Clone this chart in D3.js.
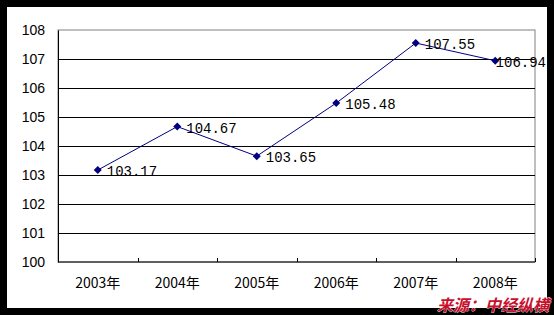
<!DOCTYPE html>
<html>
<head>
<meta charset="utf-8">
<script src="https://cdn.jsdelivr.net/npm/d3@7"></script>
<style>
  body { margin: 0; background: #000; }
  svg { display: block; }
</style>
</head>
<body>
<div id="chart"></div>
<script>
// chart data
var years = ["2003年", "2004年", "2005年", "2006年", "2007年", "2008年"];
var values = [103.17, 104.67, 103.65, 105.48, 107.55, 106.94];
var yTicks = [100, 101, 102, 103, 104, 105, 106, 107, 108];

var W = 554, H = 315;
var margin = {top: 30, right: 19, bottom: 53, left: 58},
    width = W - margin.left - margin.right,
    height = H - margin.top - margin.bottom;

var svg = d3.select("#chart").append("svg")
    .attr("width", W)
    .attr("height", H);

// black frame + white card
svg.append("rect").attr("width", W).attr("height", H).attr("fill", "#000");
svg.append("rect").attr("x", 7).attr("y", 7).attr("width", 540).attr("height", 301).attr("fill", "#fff");

var g = svg.append("g")
    .attr("transform", "translate(" + margin.left + "," + margin.top + ")");

var x = d3.scaleBand().domain(years).range([0, width]);
var y = d3.scaleLinear().domain([100, 108]).range([height, 0]);

// plot border (gray)
g.append("rect")
    .attr("x", 0).attr("y", 0)
    .attr("width", width).attr("height", height)
    .attr("fill", "none")
    .attr("stroke", "#808080");

// gridlines
g.selectAll(".grid")
    .data(yTicks.filter(function(d) { return d > 100 && d < 108; }))
    .enter().append("line")
    .attr("class", "grid")
    .attr("x1", 0).attr("x2", width)
    .attr("y1", function(d) { return Math.round(y(d)) + 0.5; })
    .attr("y2", function(d) { return Math.round(y(d)) + 0.5; })
    .attr("stroke", "#000");

// y axis
var yAxis = g.append("g")
    .attr("class", "y axis")
    .call(d3.axisLeft(y).tickValues(yTicks).tickSize(0).tickPadding(13).tickFormat(d3.format("d")));
yAxis.select(".domain").attr("stroke", "#000");
yAxis.selectAll("text")
    .style("font-family", '"Liberation Sans", Arial, sans-serif')
    .style("font-size", "14px")
    .attr("fill", "#000");

// x axis, ticks pointing up into the plot
var xAxis = g.append("g")
    .attr("class", "x axis")
    .attr("transform", "translate(0," + height + ")");
xAxis.append("line")
    .attr("x1", 0).attr("x2", width)
    .attr("stroke", "#000");
var edges = d3.range(years.length + 1).map(function(i) { return i * x.bandwidth(); });
xAxis.selectAll(".tk")
    .data(edges)
    .enter().append("line")
    .attr("class", "tk")
    .attr("x1", function(d) { return Math.round(d) + 0.5; })
    .attr("x2", function(d) { return Math.round(d) + 0.5; })
    .attr("y1", -4).attr("y2", 0)
    .attr("stroke", "#000");
xAxis.selectAll(".lbl")
    .data(years)
    .enter().append("text")
    .attr("class", "lbl")
    .attr("x", function(d) { return x(d) + x.bandwidth() / 2; })
    .attr("y", 26)
    .attr("text-anchor", "middle")
    .style("font-family", '"Noto Sans CJK SC", sans-serif')
    .style("font-size", "14px")
    .attr("fill", "#000")
    .text(function(d) { return d; });

// line
var line = d3.line()
    .x(function(d, i) { return x(years[i]) + x.bandwidth() / 2; })
    .y(function(d) { return y(d); });

g.append("path")
    .datum(values)
    .attr("d", line)
    .attr("fill", "none")
    .attr("stroke", "#000080")
    .attr("stroke-width", 1);

// diamond markers
g.selectAll(".pt")
    .data(values)
    .enter().append("path")
    .attr("class", "pt")
    .attr("transform", function(d, i) {
        return "translate(" + (x(years[i]) + x.bandwidth() / 2) + "," + y(d) + ")";
    })
    .attr("d", "M0,-4L4,0L0,4L-4,0Z")
    .attr("fill", "#000080");

// data labels (pushed back inside the card if they would run off it)
var maxRight = 546 - margin.left;
g.selectAll(".val")
    .data(values)
    .enter().append("text")
    .attr("class", "val")
    .attr("y", function(d) { return y(d) + 6; })
    .style("font-family", '"Liberation Mono", monospace')
    .style("font-size", "14px")
    .attr("fill", "#000")
    .text(function(d) { return d.toFixed(2); })
    .attr("x", function(d, i) {
        var px = x(years[i]) + x.bandwidth() / 2 + 9;
        var w = this.getComputedTextLength();
        return Math.min(px, maxRight - w);
    });

// source note
svg.append("text")
    .attr("x", 549)
    .attr("y", 311)
    .attr("text-anchor", "end")
    .style("font-family", '"Noto Sans CJK SC", sans-serif')
    .style("font-size", "16px")
    .style("font-weight", "700")
    .style("font-style", "italic")
    .attr("fill", "#c8102e")
    .attr("stroke", "#fff")
    .attr("stroke-width", 0.6)
    .attr("paint-order", "stroke")
    .text("来源：中经纵横");
</script>
</body>
</html>
